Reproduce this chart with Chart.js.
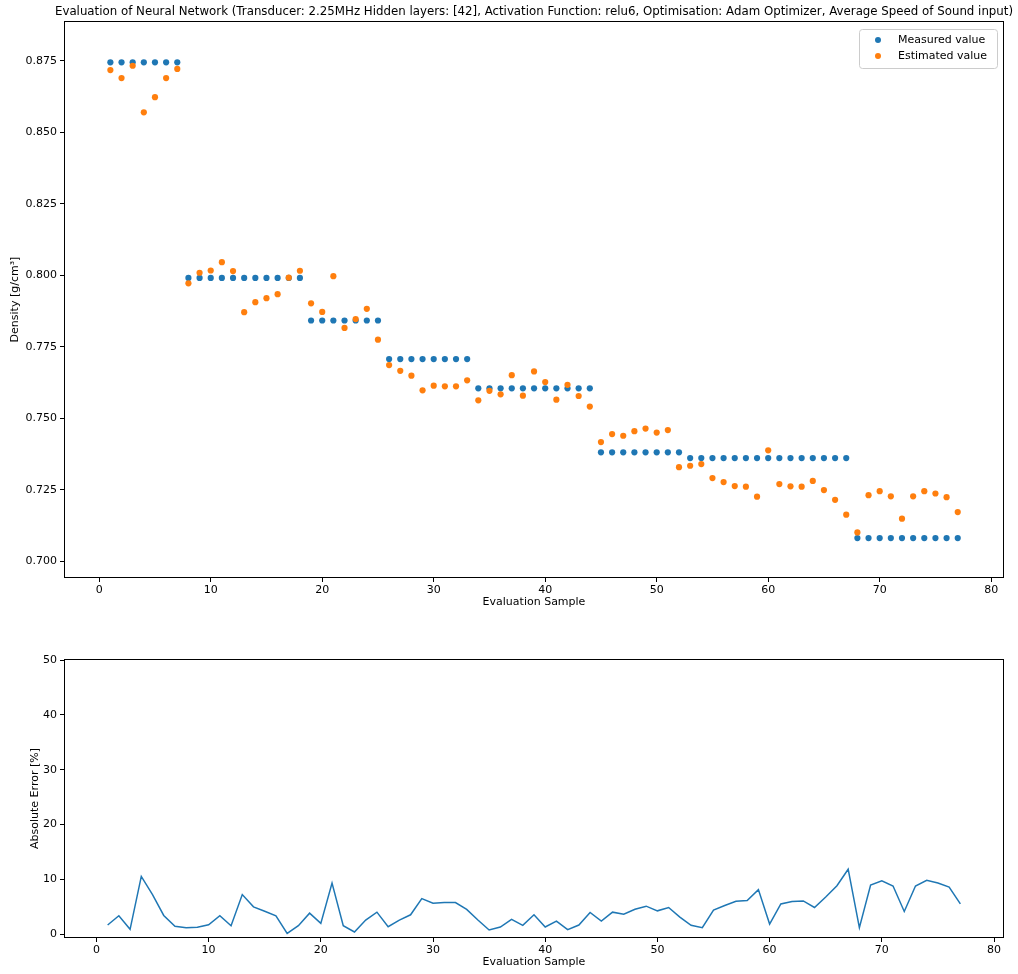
<!DOCTYPE html>
<html>
<head>
<meta charset="utf-8">
<script src="https://cdn.jsdelivr.net/npm/chart.js@4.4.1/dist/chart.umd.min.js"></script>
<style>
html, body { margin: 0; padding: 0; background: #fff; }
#topChart { position: absolute; left: 0; top: 0; }
#bottomChart { position: absolute; left: 0; top: 620px; }
</style>
</head>
<body>
<canvas id="topChart" width="1018" height="620"></canvas>
<canvas id="bottomChart" width="1018" height="354"></canvas>
<script>
const titleText = "Evaluation of Neural Network (Transducer: 2.25MHz Hidden layers: [42], Activation Function: relu6, Optimisation: Adam Optimizer, Average Speed of Sound input)";

const samples = [1, 2, 3, 4, 5, 6, 7, 8, 9, 10, 11, 12, 13, 14, 15, 16, 17, 18, 19, 20,
    21, 22, 23, 24, 25, 26, 27, 28, 29, 30, 31, 32, 33, 34, 35, 36, 37, 38, 39, 40,
    41, 42, 43, 44, 45, 46, 47, 48, 49, 50, 51, 52, 53, 54, 55, 56, 57, 58, 59, 60,
    61, 62, 63, 64, 65, 66, 67, 68, 69, 70, 71, 72, 73, 74, 75, 76, 77];

const measured = [0.8745, 0.8745, 0.8745, 0.8745, 0.8745, 0.8745, 0.8745,
    0.7991, 0.7991, 0.7991, 0.7991, 0.7991, 0.7991, 0.7991, 0.7991, 0.7991, 0.7991, 0.7991,
    0.7842, 0.7842, 0.7842, 0.7842, 0.7842, 0.7842, 0.7842,
    0.7707, 0.7707, 0.7707, 0.7707, 0.7707, 0.7707, 0.7707, 0.7707,
    0.7605, 0.7605, 0.7605, 0.7605, 0.7605, 0.7605, 0.7605, 0.7605, 0.7605, 0.7605, 0.7605,
    0.7381, 0.7381, 0.7381, 0.7381, 0.7381, 0.7381, 0.7381, 0.7381,
    0.7361, 0.7361, 0.7361, 0.7361, 0.7361, 0.7361, 0.7361, 0.7361, 0.7361, 0.7361, 0.7361, 0.7361, 0.7361, 0.7361, 0.7361,
    0.7081, 0.7081, 0.7081, 0.7081, 0.7081, 0.7081, 0.7081, 0.7081, 0.7081, 0.7081];

const estimated = [0.8718, 0.8690, 0.8733, 0.8570, 0.8623, 0.8690, 0.8722,
    0.7972, 0.8009, 0.8017, 0.8046, 0.8015, 0.7871, 0.7906, 0.7920, 0.7934, 0.7992, 0.8016,
    0.7902, 0.7872, 0.7997, 0.7816, 0.7847, 0.7883, 0.7775,
    0.7686, 0.7666, 0.7649, 0.7598, 0.7614, 0.7612, 0.7612, 0.7633,
    0.7563, 0.7596, 0.7584, 0.7651, 0.7579, 0.7664, 0.7627, 0.7565, 0.7617, 0.7578, 0.7541,
    0.7417, 0.7445, 0.7439, 0.7455, 0.7464, 0.7450, 0.7459, 0.7329,
    0.7334, 0.7340, 0.7291, 0.7277, 0.7263, 0.7261, 0.7226, 0.7388, 0.7270, 0.7262, 0.7261, 0.7281, 0.7249, 0.7215, 0.7163,
    0.7101, 0.7231, 0.7245, 0.7227, 0.7149, 0.7227, 0.7245, 0.7237, 0.7224, 0.7172];

const absError = [1.68, 3.37, 0.90, 10.54, 7.23, 3.43, 1.44, 1.20, 1.26, 1.74,
    3.37, 1.56, 7.23, 5.00, 4.20, 3.37, 0.17, 1.56, 3.85, 1.98,
    9.34, 1.56, 0.42, 2.59, 4.03, 1.38, 2.59, 3.55, 6.50, 5.66,
    5.78, 5.78, 4.52, 2.59, 0.78, 1.32, 2.71, 1.63, 3.55, 1.32,
    2.40, 0.84, 1.68, 3.97, 2.40, 4.03, 3.67, 4.57, 5.12, 4.27,
    4.88, 3.13, 1.63, 1.20, 4.39, 5.24, 6.02, 6.15, 8.14, 1.86,
    5.53, 5.97, 6.08, 4.88, 6.80, 8.86, 11.86, 1.20, 8.97, 9.76,
    8.79, 4.16, 8.79, 9.82, 9.33, 8.61, 5.53];

const xTicks = [0, 10, 20, 30, 40, 50, 60, 70, 80];
const densityTicks = [0.700, 0.725, 0.750, 0.775, 0.800, 0.825, 0.850, 0.875];
const errorTicks = [0, 10, 20, 30, 40, 50];

const blue = "#1f77b4";
const orange = "#ff7f0e";
const font = "DejaVu Sans";

Chart.defaults.font.family = font;
Chart.defaults.font.size = 11;
Chart.defaults.color = "#000";

function toPoints(xs, ys) {
    return xs.map((x, i) => ({ x: x, y: ys[i] }));
}

// rahmen um die plotflaeche wie bei matplotlib
const frame = {
    id: "frame",
    afterDraw(chart) {
        const a = chart.chartArea;
        const c = chart.ctx;
        c.save();
        c.strokeStyle = "#000";
        c.lineWidth = 1;
        c.strokeRect(a.left - 0.5, a.top - 0.5, a.right - a.left + 1, a.bottom - a.top + 1);
        c.restore();
    }
};

const headline = {
    id: "headline",
    afterDraw(chart) {
        const a = chart.chartArea;
        const c = chart.ctx;
        c.save();
        c.font = "11.8px '" + font + "'";
        c.fillStyle = "#000";
        c.textAlign = "center";
        c.textBaseline = "middle";
        c.fillText(titleText, (a.left + a.right) / 2, 12);
        c.restore();
    }
};

const legendBox = {
    id: "legendBox",
    afterDraw(chart) {
        const a = chart.chartArea;
        const c = chart.ctx;
        const x = a.right - 144, y = a.top + 7, w = 138, h = 39;
        c.save();
        c.fillStyle = "rgba(255,255,255,0.8)";
        c.strokeStyle = "#cccccc";
        c.lineWidth = 1;
        c.beginPath();
        c.roundRect(x + 0.5, y + 0.5, w, h, 3);
        c.fill();
        c.stroke();
        c.font = "11px '" + font + "'";
        c.textBaseline = "middle";
        const rows = [["Measured value", blue], ["Estimated value", orange]];
        rows.forEach((r, i) => {
            const ry = y + 11 + i * 16;
            c.fillStyle = r[1];
            c.beginPath();
            c.arc(x + 19, ry, 3, 0, Math.PI * 2);
            c.fill();
            c.fillStyle = "#000";
            c.fillText(r[0], x + 39, ry);
        });
        c.restore();
    }
};

function xAxis(min, max, height, titlePad) {
    return {
        type: "linear",
        min: min,
        max: max,
        afterBuildTicks: s => { s.ticks = xTicks.map(v => ({ value: v })); },
        afterFit: s => { s.height = height; },
        ticks: { autoSkip: false, maxRotation: 0, padding: 2 },
        grid: { drawOnChartArea: false, color: "#000", tickLength: 5 },
        border: { display: false },
        title: { display: true, text: "Evaluation Sample", padding: { top: 0, bottom: titlePad } }
    };
}

function yAxis(min, max, ticks, fmt, label, titlePad) {
    return {
        type: "linear",
        min: min,
        max: max,
        afterBuildTicks: s => { s.ticks = ticks.map(v => ({ value: v })); },
        afterFit: s => { s.width = 65; },
        ticks: { autoSkip: false, padding: 3, callback: fmt },
        grid: { drawOnChartArea: false, color: "#000", tickLength: 5 },
        border: { display: false },
        title: { display: true, text: label, padding: { top: titlePad, bottom: 0 } }
    };
}

new Chart(document.getElementById("topChart").getContext("2d"), {
    type: "scatter",
    data: {
        datasets: [
            {
                label: "Measured value",
                data: toPoints(samples, measured),
                backgroundColor: blue,
                borderWidth: 0,
                pointRadius: 3.1,
                order: 2
            },
            {
                label: "Estimated value",
                data: toPoints(samples, estimated),
                backgroundColor: orange,
                borderWidth: 0,
                pointRadius: 3.1,
                order: 1
            }
        ]
    },
    options: {
        responsive: false,
        animation: false,
        devicePixelRatio: 1,
        layout: { padding: { top: 22, right: 15, left: 0, bottom: 0 } },
        plugins: { legend: { display: false }, tooltip: { enabled: false }, title: { display: false } },
        scales: {
            x: xAxis(-3.07, 81.06, 43, 11.4),
            y: yAxis(0.6945, 0.8886, densityTicks, v => v.toFixed(3), "Density [g/cm³]", 8.4)
        }
    },
    plugins: [frame, headline, legendBox]
});

new Chart(document.getElementById("bottomChart").getContext("2d"), {
    type: "scatter",
    data: {
        datasets: [{
            label: "Absolute Error",
            data: toPoints(samples, absError),
            showLine: true,
            borderColor: blue,
            borderWidth: 1.5,
            pointRadius: 0,
            fill: false
        }]
    },
    options: {
        responsive: false,
        animation: false,
        devicePixelRatio: 1,
        layout: { padding: { top: 40, right: 15, left: 0, bottom: 0 } },
        plugins: { legend: { display: false }, tooltip: { enabled: false } },
        scales: {
            x: xAxis(-2.8, 80.8, 37, 5.4),
            y: yAxis(-0.5, 50, errorTicks, v => String(v), "Absolute Error [%]", 28.4)
        }
    },
    plugins: [frame]
});
</script>
</body>
</html>
